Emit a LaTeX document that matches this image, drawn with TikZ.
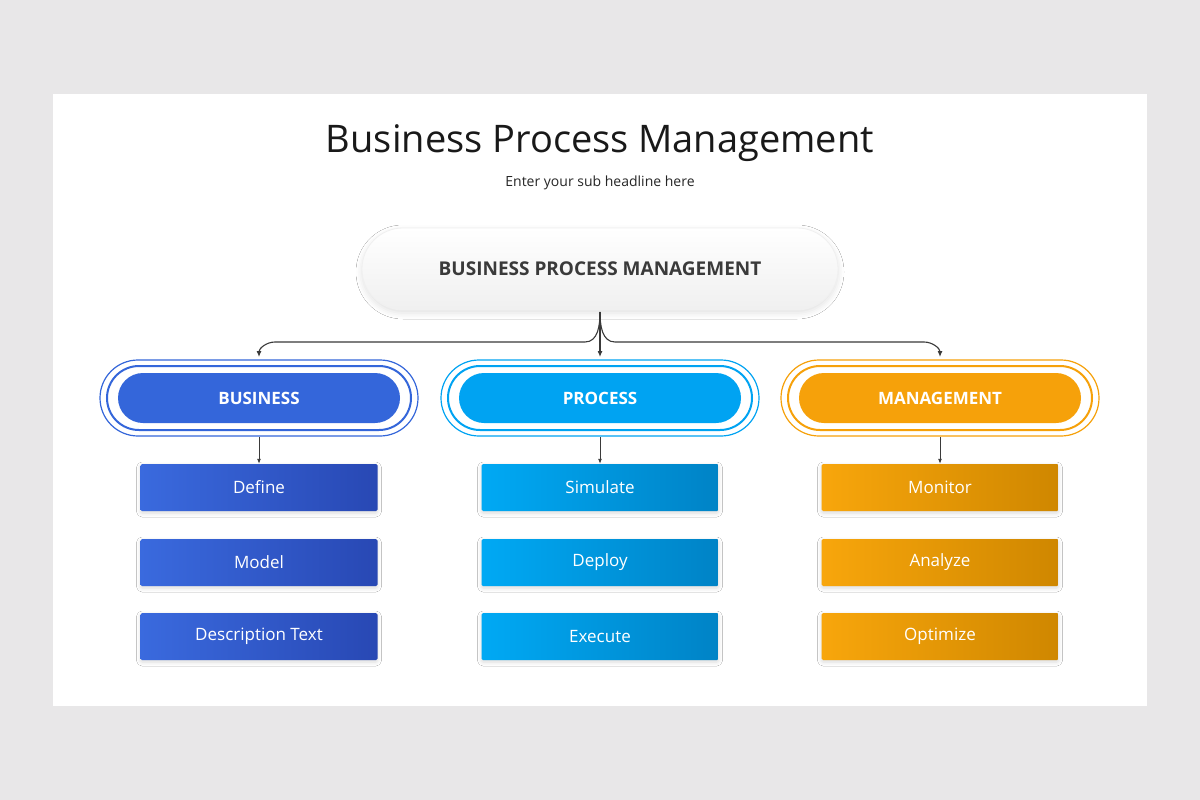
\documentclass[tikz,border=0pt]{standalone}
\usepackage{fontspec}
\setmainfont{Open Sans}
\usetikzlibrary{shadows.blur,arrows.meta}
\definecolor{bg}{HTML}{E8E7E8}
\definecolor{bA}{HTML}{3A6ADE}\definecolor{bB}{HTML}{2848B4}
\definecolor{pA}{HTML}{00A9F4}\definecolor{pB}{HTML}{0083C6}
\definecolor{mA}{HTML}{F8A60C}\definecolor{mB}{HTML}{CF8700}
\definecolor{bP}{HTML}{3466DA}\definecolor{pP}{HTML}{00A3F2}\definecolor{mP}{HTML}{F6A10A}
\definecolor{dark}{HTML}{3A3A3A}
\begin{document}
\begin{tikzpicture}[x=1pt,y=-1pt,
 box/.style 2 args={draw=none,minimum width=237pt,minimum height=47pt,rounded corners=1.5pt,left color=#1,right color=#2,text=white,font=\fontsize{17}{20}\selectfont,blur shadow={shadow xshift=0pt,shadow yshift=-2pt,shadow blur radius=4pt,shadow opacity=15}},
 pill/.style={rounded corners=25pt,minimum width=282pt,minimum height=50pt,fill=#1,text=white,font=\bfseries\fontsize{17}{20}\selectfont},
 ring/.style={draw=#1,line width=1.2pt,fill=none,rounded corners=38pt},
 ring2/.style={draw=#1,line width=2pt,fill=none,rounded corners=32pt},
 con/.style={draw=dark,line width=1.1pt,-{Latex[length=6pt,width=5pt]}}]
\fill[bg] (0,0) rectangle (1200,800);
\fill[white] (53,94) rectangle (1147,706);
\node[font=\fontsize{38}{44}\selectfont,text=black!90] (title) at (600,143) {Business Process Management};
\node[font=\fontsize{14}{16}\selectfont,text=black!85] (sub) at (600,183) {Enter your sub headline here};
\node[minimum width=476pt,minimum height=82pt,rounded corners=41pt,top color=white,bottom color=black!6,draw=black!6,line width=0.8pt,text=dark,font=\bfseries\fontsize{19}{22}\selectfont,blur shadow={shadow xshift=0pt,shadow yshift=-3pt,shadow blur radius=6pt,shadow opacity=12}] (top) at (600,269) {BUSINESS PROCESS MANAGEMENT};
\coordinate (j) at (600,312);
\foreach \n/\x/\c/\t in {b/259/bP/BUSINESS,p/600/pP/PROCESS,m/940/mP/MANAGEMENT}{
 \draw[ring=\c] (\x-159,360) rectangle (\x+159,436);
 \draw[ring2=\c] (\x-152,366) rectangle (\x+152,430);
 \node[pill=\c] (\n) at (\x,398) {\t};
}
\coordinate (pt) at (600,357);
\draw[con] (j) -- (pt);
\draw[con] (j) to[out=-90,in=0] (585,342) -- (275,342) to[out=180,in=90] (259,357);
\draw[con] (j) to[out=-90,in=180] (615,342) -- (924,342) to[out=0,in=90] (940,357);
\foreach \n/\x/\a/\bb/\ta/\tb/\tc in {b/259/bA/bB/Define/Model/Description Text,p/600/pA/pB/Simulate/Deploy/Execute,m/940/mA/mB/Monitor/Analyze/Optimize}{
 \node[box={\a}{\bb}] (\n1) at (\x,487.5) {\ta};
 \node[box={\a}{\bb}] (\n2) at (\x,562.5) {\tb};
 \node[box={\a}{\bb}] (\n3) at (\x,636.5) {\tc};
 \draw[draw=dark,line width=0.9pt,-{Latex[length=5pt,width=4pt]}] (\x,437) -- (\n1.north);
}
\end{tikzpicture}
\end{document}
